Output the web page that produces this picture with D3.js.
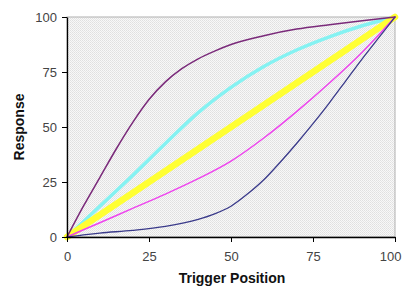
<!DOCTYPE html>
<html><head><meta charset="utf-8">
<script src="https://cdn.jsdelivr.net/npm/d3@7"></script>
<style>body{margin:0;background:#fff}svg{display:block}</style>
</head><body>
<svg id="c" width="402" height="288"></svg>
<script>
const xTicks = [0, 25, 50, 75, 100];
const yTicks = [0, 25, 50, 75, 100];
const purple = [[0,0],[5,14],[10,27],[15,40],[20,52],[25,62.5],[30,70.5],[35,76.5],[40,81],[45,84.5],[50,87.5],[60,91.5],[70,94.5],[80,96.5],[90,98.3],[100,100]];
const cyan = [[0,0],[10,14],[20,28],[30,42.5],[40,56.5],[50,68],[60,77.5],[70,85],[80,91],[90,96],[100,100]];
const yellow = [[0,0],[100,100]];
const magenta = [[0,0],[10,6.5],[20,13],[30,19.5],[40,26.5],[50,34.5],[60,45],[70,57],[80,70],[90,84],[100,100]];
const navy = [[0,0],[5,1],[10,1.8],[20,3],[30,4.8],[40,8],[45,10.5],[50,14],[55,19.5],[60,26],[65,34],[70,42.5],[75,51.5],[80,61],[85,71],[90,81],[95,90.5],[100,100]];

const svg = d3.select("#c");
const L = 67, R = 395, T = 17, B = 237;
const x = d3.scaleLinear().domain([0,100]).range([L,R]);
const y = d3.scaleLinear().domain([0,100]).range([B,T]);

const defs = svg.append("defs");
const pat = defs.append("pattern").attr("id","bg").attr("width",2).attr("height",2).attr("patternUnits","userSpaceOnUse");
pat.append("rect").attr("width",2).attr("height",2).attr("fill","#f8f8f8");
pat.append("rect").attr("x",0).attr("y",0).attr("width",1).attr("height",1).attr("fill","#e0e0e0");
pat.append("rect").attr("x",1).attr("y",1).attr("width",1).attr("height",1).attr("fill","#e6e6e6");

svg.append("rect").attr("x",L).attr("y",T).attr("width",R-L).attr("height",B-T).attr("fill","url(#bg)").attr("stroke","#b0b0b0").attr("stroke-width",1);

const line = d3.line().x(d=>x(d[0])).y(d=>y(d[1])).curve(d3.curveMonotoneX);
const series = [
  {d: cyan, c: "#85f2f2", w: 3.5},
  {d: yellow, c: "#ffff33", w: 6.5},
  {d: magenta, c: "#ee44ee", w: 1.5},
  {d: navy, c: "#3a3a8a", w: 1.3},
  {d: purple, c: "#7a2a7a", w: 1.5}
];
svg.selectAll("path.s").data(series).enter().append("path").attr("class","s")
  .attr("d", s=>line(s.d)).attr("fill","none").attr("stroke", s=>s.c).attr("stroke-width", s=>s.w).attr("stroke-linecap","round");

const ax = svg.append("g").attr("transform",`translate(0,${B})`)
  .call(d3.axisBottom(x).tickValues(xTicks).tickSize(5).tickPadding(10).tickSizeOuter(0));
const ay = svg.append("g").attr("transform",`translate(${L},0)`)
  .call(d3.axisLeft(y).tickValues(yTicks).tickSize(5).tickPadding(5).tickSizeOuter(0));
[ax, ay].forEach(g=>{
  g.select(".domain").attr("stroke","#000").attr("stroke-width",1.3);
  g.selectAll(".tick line").attr("stroke","#000");
  g.selectAll("text").attr("font-family","Liberation Sans, Arial, sans-serif").attr("font-size",13).attr("fill","#444");
});
ax.selectAll(".tick text").filter(d=>d===100).attr("text-anchor","end").attr("x", 401 - R);

svg.append("text").attr("x",232).attr("y",283).attr("text-anchor","middle")
  .attr("font-family","Liberation Sans, Arial, sans-serif").attr("font-weight","bold").attr("font-size",14).attr("fill","#111").text("Trigger Position");
svg.append("text").attr("transform","translate(24,127) rotate(-90)").attr("text-anchor","middle")
  .attr("font-family","Liberation Sans, Arial, sans-serif").attr("font-weight","bold").attr("font-size",14).attr("fill","#111").text("Response");
</script>
</body></html>
